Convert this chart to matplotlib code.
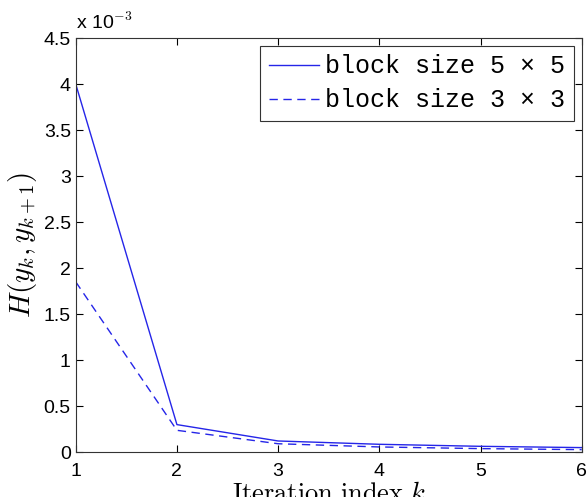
import numpy as np
import matplotlib
matplotlib.use('Agg')
import matplotlib.pyplot as plt
from matplotlib.ticker import FuncFormatter

plt.rcParams['mathtext.fontset'] = 'cm'
plt.rcParams['font.family'] = ['Liberation Sans', 'DejaVu Sans']

# iteration index k
iters = [1, 2, 3, 4, 5, 6]
# H(y_k, y_k+1)
h_5x5 = np.array([4.00, 0.298, 0.120, 0.084, 0.062, 0.048]) * 1e-3
h_3x3 = np.array([1.85, 0.236, 0.090, 0.055, 0.037, 0.026]) * 1e-3
labels = ['block size 5 \u00d7 5', 'block size 3 \u00d7 3']

fig = plt.figure(figsize=(5.87, 4.97), dpi=100)
ax = fig.add_axes([0.129, 0.0905, 0.862, 0.833])

ax.plot(iters, h_5x5, '-', color='#2525e8', lw=1.0, label=labels[0])
ax.plot(iters, h_3x3, '--', color='#2525e8', lw=1.0, dashes=(6, 4), label=labels[1])

ax.set_xlim(1, 6)
ax.set_ylim(0, 4.5e-3)
ax.set_xticks(iters)
ax.set_yticks(np.arange(0, 4.51e-3, 0.5e-3))
ax.yaxis.set_major_formatter(FuncFormatter(lambda v, p: '%g' % round(v / 1e-3, 3)))
ax.tick_params(direction='in', top=True, right=True, labelsize=14, length=5, width=0.8)
ax.tick_params(axis='x', pad=8)
ax.tick_params(axis='y', pad=3.5)
for s in ax.spines.values():
    s.set_linewidth(0.8)
    s.set_color('#333333')

ax.text(0.0, 1.012, r'x 10$^{-3}$', transform=ax.transAxes, fontsize=14,
        ha='left', va='bottom')

ax.set_ylabel(r'$H(y_k,y_{k+1})$', fontsize=21)
ax.yaxis.set_label_coords(-0.072, 0.5)
ax.set_xlabel(r'$\mathrm{Iteration\ index}\ k$', fontsize=19, va='top')
ax.xaxis.set_label_coords(0.5, -0.072)

leg = ax.legend(loc='upper right', prop={'family': 'Liberation Mono', 'size': 18},
                handlelength=2.0, handletextpad=0.25, borderpad=0.35, labelspacing=0.4,
                fancybox=False, framealpha=1, borderaxespad=0.3)
leg.get_frame().set_edgecolor('#333333')
leg.get_frame().set_linewidth(0.8)

fig.savefig('out.png', dpi=100)
